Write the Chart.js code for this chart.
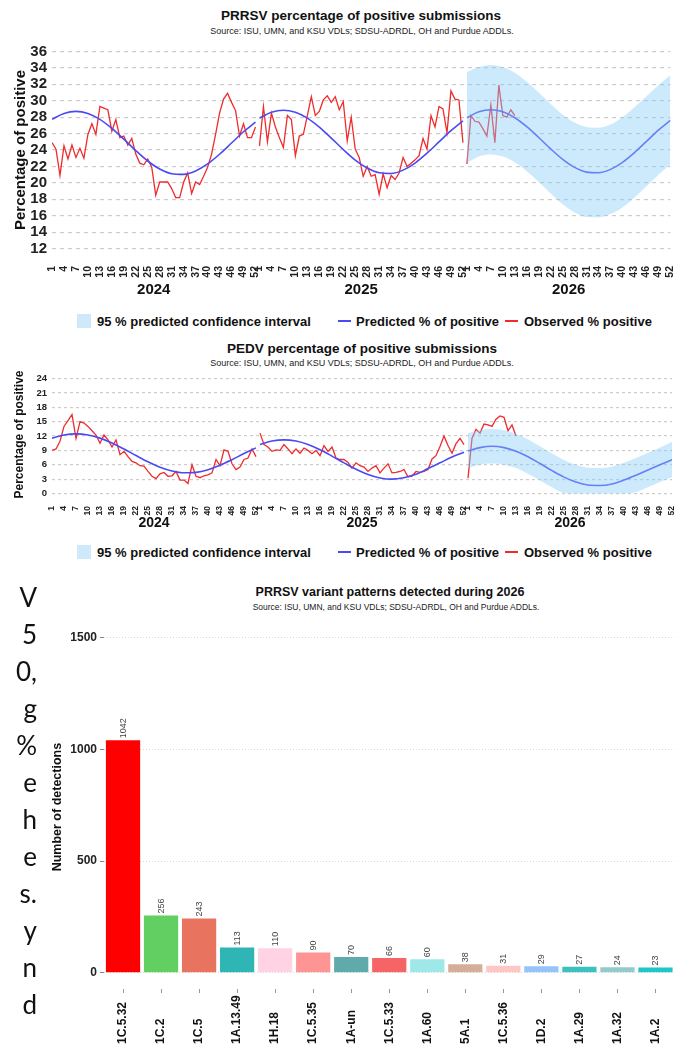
<!DOCTYPE html>
<html>
<head>
<meta charset="utf-8">
<script src="https://cdn.jsdelivr.net/npm/chart.js@4.4.1/dist/chart.umd.min.js"></script>
<style>
  body { margin: 0; background: #fff; width: 685px; height: 1050px; position: relative; overflow: hidden;
         font-family: "Liberation Sans", Arial, sans-serif; color: #111; }
  canvas { position: absolute; left: 0; }
  .t { position: absolute; transform: translate(-50%, -50%); white-space: nowrap; }
  .b { font-weight: bold; }
  .lg { position: absolute; transform: translateY(-50%); white-space: nowrap; font-weight: bold; font-size: 13px; color: #111; }
  .sw { position: absolute; }
  .side { position: absolute; left: 0; top: 579px; width: 37px; text-align: right; font-family: Lato, "Open Sans", sans-serif;
          font-size: 26px; line-height: 37px; color: #111; }
</style>
</head>
<body>

<div class="t b" style="left:361px;top:15px;font-size:13.5px">PRRSV percentage of positive submissions</div>
<div class="t" style="left:362px;top:31px;font-size:9px;color:#222">Source: ISU, UMN, and KSU VDLs; SDSU-ADRDL, OH and Purdue ADDLs.</div>
<canvas id="prrsv" width="685" height="300" style="top:0"></canvas>

<div class="sw" style="left:77px;top:314px;width:14px;height:14px;background:#cfe9fb"></div>
<div class="lg" style="left:97px;top:321px">95 % predicted confidence interval</div>
<div class="sw" style="left:338px;top:320px;width:13px;height:2px;background:#4a4af2"></div>
<div class="lg" style="left:356px;top:321px">Predicted % of positive</div>
<div class="sw" style="left:505px;top:320px;width:13px;height:2px;background:#ef2b2b"></div>
<div class="lg" style="left:524px;top:321px">Observed % positive</div>

<div class="t b" style="left:362px;top:348px;font-size:13.5px">PEDV percentage of positive submissions</div>
<div class="t" style="left:362px;top:363px;font-size:9px;color:#222">Source: ISU, UMN, and KSU VDLs; SDSU-ADRDL, OH and Purdue ADDLs.</div>
<canvas id="pedv" width="685" height="210" style="top:330px"></canvas>

<div class="sw" style="left:77px;top:545px;width:14px;height:14px;background:#cfe9fb"></div>
<div class="lg" style="left:97px;top:552px">95 % predicted confidence interval</div>
<div class="sw" style="left:338px;top:551px;width:13px;height:2px;background:#4a4af2"></div>
<div class="lg" style="left:356px;top:552px">Predicted % of positive</div>
<div class="sw" style="left:505px;top:551px;width:13px;height:2px;background:#ef2b2b"></div>
<div class="lg" style="left:524px;top:552px">Observed % positive</div>

<div class="t b" style="left:390px;top:592px;font-size:12.5px">PRRSV variant patterns detected during 2026</div>
<div class="t" style="left:396px;top:607px;font-size:8.5px;color:#222">Source: ISU, UMN, and KSU VDLs; SDSU-ADRDL, OH and Purdue ADDLs.</div>
<canvas id="variants" width="685" height="435" style="top:615px"></canvas>

<div class="side">V<br>5<br>0,<br>g<br>%<br>e<br>h<br>e<br>s.<br>y<br>n<br>d</div>

<script>
// weekly values
const years = ['2024', '2025', '2026'];
const predWeeks = [1, 4, 7, 10, 13, 16, 19, 22, 25, 28, 31, 34, 37, 40, 43, 46, 49, 52];

const prrsvObs2024 = [24.9, 24.1, 20.9, 24.5, 22.9, 24.6, 23.1, 24.2, 23.0, 25.9, 27.2, 25.9, 29.3, 29.1, 28.9, 26.3,
  27.7, 25.5, 25.7, 24.6, 25.4, 23.5, 22.4, 22.2, 22.9, 21.9, 18.5, 20.1, 20.1, 20.1, 19.3, 18.2, 18.2, 20.1, 21.2,
  18.7, 20.1, 19.8, 20.8, 21.9, 23.5, 25.9, 28.5, 30.2, 30.9, 29.8, 28.8, 25.7, 27.2, 25.5, 25.5, 26.8];
const prrsvObs2025 = [24.5, 29.3, 25.0, 28.5, 26.8, 25.5, 24.3, 28.2, 27.7, 23.3, 25.7, 25.9, 28.2, 30.5, 28.2, 28.7,
  30.1, 30.6, 29.8, 30.5, 28.9, 29.9, 25.1, 28.0, 24.1, 23.1, 20.8, 22.0, 20.8, 21.0, 18.6, 21.1, 19.4, 20.9, 20.4,
  21.2, 23.1, 22.0, 22.4, 22.8, 23.3, 25.4, 24.1, 28.2, 26.8, 29.3, 29.0, 26.1, 31.2, 30.2, 30.1, 24.9];
const prrsvObs2026 = [22.3, 28.2, 27.5, 27.4, 26.6, 25.7, 29.5, 24.9, 31.9, 28.2, 28.0, 28.9, 28.2];
const prrsvPred2024 = [27.73, 28.45, 28.70, 28.45, 27.73, 26.64, 25.32, 23.93, 22.66, 21.68, 21.11, 21.03, 21.44, 22.30, 23.48, 24.85, 26.22, 27.40];
const prrsvPred2025 = [27.88, 28.60, 28.85, 28.60, 27.88, 26.78, 25.45, 24.06, 22.78, 21.80, 21.22, 21.14, 21.55, 22.41, 23.61, 24.98, 26.35, 27.55];
const prrsvPred2026 = [27.93, 28.65, 28.90, 28.65, 27.93, 26.84, 25.52, 24.13, 22.86, 21.88, 21.31, 21.23, 21.64, 22.50, 23.68, 25.05, 26.42, 27.60];
const prrsvUpper2026 = [33.5, 34.1, 34.35, 34.1, 33.4, 32.3, 31.0, 29.6, 28.3, 27.35, 26.8, 26.7, 27.1, 28.0, 29.2, 30.55, 31.9, 33.1];
const prrsvLower2026 = [22.4, 23.2, 23.45, 23.2, 22.5, 21.4, 20.1, 18.7, 17.4, 16.4, 15.85, 15.8, 16.2, 17.0, 18.2, 19.6, 21.0, 22.2];
const prrsvTicks = [12, 14, 16, 18, 20, 22, 24, 26, 28, 30, 32, 34, 36];

const pedvObs2024 = [9.0, 9.3, 10.9, 14.0, 15.2, 16.5, 11.5, 15.0, 14.7, 14.0, 13.1, 12.2, 10.5, 12.2, 11.2, 9.7, 11.2,
  8.1, 8.8, 7.7, 6.7, 6.4, 5.8, 5.7, 4.6, 3.6, 3.1, 4.1, 4.4, 3.6, 3.7, 4.6, 2.8, 2.8, 2.1, 6.0, 3.6, 3.3, 3.7, 3.9,
  4.3, 7.1, 5.8, 9.1, 8.8, 6.2, 5.0, 5.5, 7.1, 7.4, 9.3, 7.7];
const pedvObs2025 = [12.6, 10.2, 9.7, 8.8, 9.1, 9.0, 10.2, 9.3, 8.3, 9.3, 8.4, 9.5, 9.0, 8.3, 9.0, 7.9, 10.0, 8.8, 9.7,
  7.4, 7.1, 7.1, 6.5, 5.3, 6.4, 5.8, 5.5, 4.6, 5.3, 5.8, 4.3, 5.3, 6.2, 4.3, 4.4, 4.6, 5.0, 3.5, 3.6, 4.6, 4.4, 4.6,
  5.0, 7.2, 7.9, 9.8, 12.0, 10.0, 8.4, 10.4, 11.5, 10.2];
const pedvObs2026 = [3.2, 11.5, 13.4, 12.6, 14.5, 14.3, 14.0, 15.5, 16.2, 15.9, 13.1, 14.3, 12.0];
const pedvPred2024 = [11.56, 12.22, 12.45, 12.22, 11.56, 10.54, 9.28, 7.92, 6.61, 5.49, 4.70, 4.32, 4.41, 4.95, 5.88, 7.06, 8.34, 9.52];
const pedvPred2025 = [10.24, 10.95, 11.2, 10.95, 10.24, 9.15, 7.81, 6.39, 5.05, 3.96, 3.25, 3.0, 3.3, 4.0, 5.2, 6.4, 7.6, 8.6];
const pedvPred2026 = [8.9, 9.58, 9.85, 9.58, 8.82, 7.66, 6.25, 4.77, 3.42, 2.38, 1.77, 1.68, 2.0, 2.8, 3.8, 4.9, 6.0, 7.05];
const pedvUpper2026 = [12.6, 13.2, 13.45, 13.2, 12.45, 11.3, 9.85, 8.4, 7.0, 6.0, 5.4, 5.3, 5.6, 6.4, 7.4, 8.5, 9.6, 10.8];
const pedvLower2026 = [5.3, 6.0, 6.25, 6.0, 5.3, 4.1, 2.7, 1.3, 0.1, 0, 0, 0, 0, 0, 0.3, 1.3, 2.4, 3.4];
const pedvTicks = [0, 3, 6, 9, 12, 15, 18, 21, 24];

const variantNames = ['1C.5.32', '1C.2', '1C.5', '1A.13.49', '1H.18', '1C.5.35', '1A-un', '1C.5.33', '1A.60', '5A.1',
  '1C.5.36', '1D.2', '1A.29', '1A.32', '1A.2'];
const variantCounts = [1042, 256, 243, 113, 110, 90, 70, 66, 60, 38, 31, 29, 27, 24, 23];
const variantTicks = [0, 500, 1000, 1500];
const variantColors = ['#ff0000', '#62cf62', '#e8735e', '#30b5b5', '#ffd3e3', '#ff9494', '#5fabab', '#f56565',
  '#9ee8e8', '#d4ae98', '#ffc6c6', '#94c4fa', '#3cc0c0', '#94caca', '#22c6c6'];

Chart.defaults.font.family = '"Liberation Sans", Arial, sans-serif';
Chart.defaults.color = '#1a1a1a';
Chart.defaults.animation = false;
Chart.defaults.elements.point.radius = 0;

const RED = '#ef2b2b', BLUE = '#4a4af2', BAND = 'rgba(135,206,250,0.42)';

// x is a running week index: 52 weeks per year, years side by side
function weekPoints(yearIdx, values, weeks) {
  return values.map((v, i) => ({ x: yearIdx * 52 + (weeks ? weeks[i] : i + 1) - 1, y: v }));
}

const yearLabels = {
  id: 'yearLabels',
  afterDraw(chart, args, opts) {
    const { ctx, scales: { x } } = chart;
    ctx.save();
    ctx.font = opts.font;
    ctx.fillStyle = '#111';
    ctx.textAlign = 'center';
    ctx.textBaseline = 'middle';
    years.forEach((yr, i) => ctx.fillText(yr, x.getPixelForValue(i * 52 + 25.5), opts.y));
    ctx.restore();
  }
};

function trendChart(id, s) {
  const datasets = [
    { data: weekPoints(2, s.upper, predWeeks), fill: '+1', backgroundColor: BAND, borderWidth: 0, order: 0, cubicInterpolationMode: 'monotone' },
    { data: weekPoints(2, s.lower, predWeeks), fill: false, borderWidth: 0, order: 0, cubicInterpolationMode: 'monotone' }
  ];
  s.obs.forEach((o, i) => datasets.push({ data: weekPoints(i, o), borderColor: RED, borderWidth: 1.3, order: 2 }));
  s.pred.forEach((p, i) => datasets.push({ data: weekPoints(i, p, predWeeks), borderColor: BLUE, borderWidth: 1.6, order: 1, cubicInterpolationMode: 'monotone' }));

  return new Chart(document.getElementById(id), {
    type: 'line',
    data: { datasets },
    plugins: [yearLabels],
    options: {
      responsive: false,
      devicePixelRatio: 1,
      layout: { padding: { top: s.top, right: 13, left: 0, bottom: 0 } },
      plugins: {
        legend: { display: false },
        tooltip: { enabled: false },
        yearLabels: { font: 'bold ' + s.yearSize + 'px "Liberation Sans", Arial', y: s.yearY }
      },
      scales: {
        x: {
          type: 'linear', min: 0, max: 155,
          afterBuildTicks: sc => {
            const t = [];
            for (let g = 0; g <= 155; g++) if ((g % 52) % 3 === 0) t.push({ value: g });
            sc.ticks = t;
          },
          afterFit: sc => { sc.height = s.xHeight; },
          grid: { display: false },
          border: { display: false },
          ticks: { autoSkip: false, minRotation: 90, maxRotation: 90, padding: 2, color: '#222',
                   font: { size: s.xFont, weight: 'bold' }, callback: v => (v % 52) + 1 }
        },
        y: {
          min: s.yMin, max: s.yMax,
          afterBuildTicks: sc => { sc.ticks = s.ticks.map(v => ({ value: v })); },
          afterFit: sc => { sc.width = 52; },
          grid: { color: '#cccccc', lineWidth: 1.2, drawTicks: false },
          border: { display: false, dash: s.dash },
          ticks: { autoSkip: false, padding: 5, color: '#222', font: { size: s.yFont, weight: 'bold' } },
          title: { display: true, text: 'Percentage of positive', color: '#111',
                   font: { size: s.titleSize, weight: 'bold' }, padding: { top: s.titlePad, bottom: 0 } }
        }
      }
    }
  });
}

trendChart('prrsv', {
  obs: [prrsvObs2024, prrsvObs2025, prrsvObs2026],
  pred: [prrsvPred2024, prrsvPred2025, prrsvPred2026],
  upper: prrsvUpper2026, lower: prrsvLower2026, ticks: prrsvTicks,
  yMin: 11.09, yMax: 36.91, top: 44, xHeight: 44, dash: [4, 4],
  xFont: 10.5, yFont: 15, titleSize: 15, titlePad: 12, yearSize: 15, yearY: 290
});

trendChart('pedv', {
  obs: [pedvObs2024, pedvObs2025, pedvObs2026],
  pred: [pedvPred2024, pedvPred2025, pedvPred2026],
  upper: pedvUpper2026, lower: pedvLower2026, ticks: pedvTicks,
  yMin: -0.52, yMax: 25.15, top: 43, xHeight: 44, dash: [3, 3],
  xFont: 8.5, yFont: 9.5, titleSize: 12, titlePad: 12, yearSize: 14, yearY: 193
});

// bar chart: value labels above bars, small ticks and category labels below, rotated
const barText = {
  id: 'barText',
  afterDatasetsDraw(chart) {
    const { ctx, chartArea } = chart;
    const bars = chart.getDatasetMeta(0).data;
    bars.forEach((bar, i) => {
      ctx.save();
      ctx.translate(bar.x, bar.y - 2);
      ctx.rotate(-Math.PI / 2);
      ctx.font = '9px "Liberation Sans", Arial';
      ctx.fillStyle = '#444';
      ctx.textAlign = 'left';
      ctx.textBaseline = 'middle';
      ctx.fillText(variantCounts[i], 0, 0);
      ctx.restore();

      ctx.save();
      ctx.strokeStyle = '#999';
      ctx.lineWidth = 1;
      ctx.beginPath();
      ctx.moveTo(Math.round(bar.x) + 0.5, chartArea.bottom);
      ctx.lineTo(Math.round(bar.x) + 0.5, chartArea.bottom + 4);
      ctx.stroke();
      ctx.restore();

      ctx.save();
      ctx.translate(bar.x, 1044 - 615);
      ctx.rotate(-Math.PI / 2);
      ctx.font = 'bold 12px "Liberation Sans", Arial';
      ctx.fillStyle = '#111';
      ctx.textAlign = 'left';
      ctx.textBaseline = 'middle';
      ctx.fillText(variantNames[i], 0, 0);
      ctx.restore();
    });
  }
};

new Chart(document.getElementById('variants'), {
  type: 'bar',
  data: {
    labels: variantNames,
    datasets: [{ data: variantCounts, backgroundColor: variantColors, barPercentage: 0.9, categoryPercentage: 1 }]
  },
  plugins: [barText],
  options: {
    responsive: false,
    devicePixelRatio: 1,
    layout: { padding: { top: 5, right: 10.5, left: 0, bottom: 0 } },
    plugins: { legend: { display: false }, tooltip: { enabled: false } },
    scales: {
      x: {
        afterFit: sc => { sc.height = 61; },
        grid: { display: false },
        border: { display: false },
        ticks: { display: false }
      },
      y: {
        min: -73, max: 1557,
        afterBuildTicks: sc => { sc.ticks = variantTicks.map(v => ({ value: v })); },
        afterFit: sc => { sc.width = 104; },
        grid: { color: '#d8d8d8', lineWidth: 1, drawTicks: true, tickLength: 4, tickColor: '#888' },
        border: { display: false, dash: [1, 2] },
        ticks: { autoSkip: false, padding: 3, color: '#222', font: { size: 12, weight: 'bold' }, callback: v => String(v) },
        title: { display: true, text: 'Number of detections', color: '#111',
                 font: { size: 12.5, weight: 'bold' }, padding: { top: 50, bottom: 0 } }
      }
    }
  }
});
</script>
</body>
</html>
